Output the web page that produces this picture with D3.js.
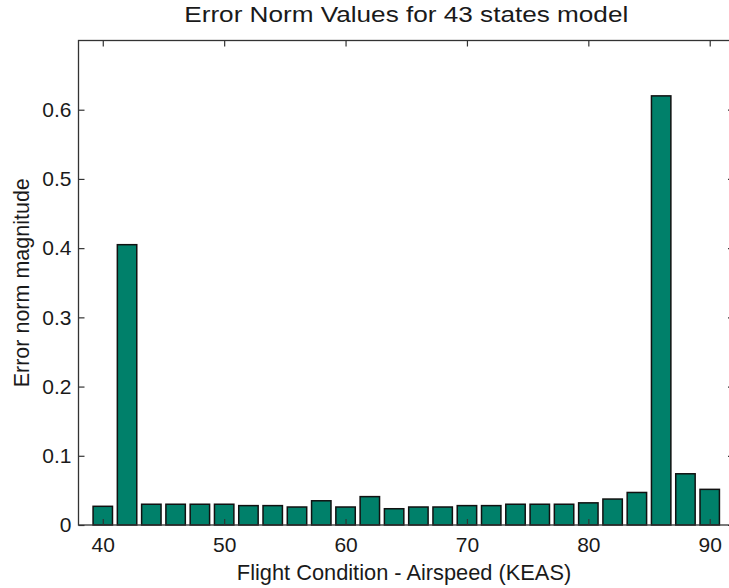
<!DOCTYPE html>
<html>
<head>
<meta charset="utf-8">
<script src="https://cdn.jsdelivr.net/npm/d3@7"></script>
<style>
  html, body { margin: 0; padding: 0; background: #fff; }
  svg { display: block; }
  text { font-family: "Liberation Sans", Arial, sans-serif; fill: #1a1a1a; }
</style>
</head>
<body>
<svg id="chart" width="729" height="588"></svg>
<script>
const airspeeds = [40, 42, 44, 46, 48, 50, 52, 54, 56, 58, 60, 62, 64, 66, 68, 70, 72, 74, 76, 78, 80, 82, 84, 86, 88, 90];
const errorNorms = [0.027, 0.405, 0.030, 0.030, 0.030, 0.030, 0.028, 0.028, 0.026, 0.035, 0.026, 0.041, 0.0235, 0.026, 0.026, 0.028, 0.028, 0.030, 0.030, 0.030, 0.032, 0.0375, 0.047, 0.620, 0.074, 0.0515];
const xTicks = [40, 50, 60, 70, 80, 90];
const yTicks = [0, 0.1, 0.2, 0.3, 0.4, 0.5, 0.6];
const xDomain = [38, 92];
const yDomain = [0, 0.7];
const titleText = "Error Norm Values for 43 states model";
const xLabel = "Flight Condition - Airspeed (KEAS)";
const yLabel = "Error norm magnitude";

const svg = d3.select("#chart");
const L = 78.5, R = 734, T = 40.5, B = 525;
const x = d3.scaleLinear().domain(xDomain).range([L, R]);
const y = d3.scaleLinear().domain(yDomain).range([B, T]);
const barW = x(xDomain[0] + 1.6) - x(xDomain[0]);

// bars
svg.append("g").selectAll("rect").data(airspeeds).join("rect")
  .attr("x", (d) => x(d) - barW / 2)
  .attr("y", (d, i) => y(errorNorms[i]))
  .attr("width", barW)
  .attr("height", (d, i) => y(0) - y(errorNorms[i]))
  .attr("fill", "#00806a")
  .attr("stroke", "#111")
  .attr("stroke-width", 1.5);

const tickLen = 6;
function styleAxis(g) {
  g.select(".domain").remove();
  g.selectAll(".tick line").attr("stroke", "#333").attr("stroke-width", 1.2);
  g.selectAll(".tick text").attr("font-size", 21).attr("fill", "#1a1a1a");
}

// bottom axis (ticks inward)
svg.append("g").attr("transform", `translate(0,${B})`)
  .call(d3.axisBottom(x).tickValues(xTicks).tickSize(-tickLen).tickPadding(12).tickFormat(d3.format("d")))
  .call(styleAxis)
  .call(g => g.selectAll(".tick text").attr("dy", "0.71em"));
// top axis
svg.append("g").attr("transform", `translate(0,${T})`)
  .call(d3.axisTop(x).tickValues(xTicks).tickSize(-tickLen).tickFormat(""))
  .call(styleAxis);
// left axis
svg.append("g").attr("transform", `translate(${L},0)`)
  .call(d3.axisLeft(y).tickValues(yTicks).tickSize(-tickLen).tickPadding(7).tickFormat(d => d === 0 ? "0" : d3.format(".1f")(d)))
  .call(styleAxis);
// right axis
svg.append("g").attr("transform", `translate(${R},0)`)
  .call(d3.axisRight(y).tickValues(yTicks).tickSize(-tickLen).tickFormat(""))
  .call(styleAxis);

// box
svg.append("rect")
  .attr("x", L).attr("y", T).attr("width", R - L).attr("height", B - T)
  .attr("fill", "none").attr("stroke", "#333").attr("stroke-width", 1.3);

// title
svg.append("text")
  .attr("x", (L + R) / 2).attr("y", 22)
  .attr("text-anchor", "middle")
  .attr("font-size", 22)
  .attr("textLength", 444).attr("lengthAdjust", "spacingAndGlyphs")
  .text(titleText);

// x label
svg.append("text")
  .attr("x", 404).attr("y", 580)
  .attr("text-anchor", "middle")
  .attr("font-size", 21.8)
  .text(xLabel);

// y label
svg.append("text")
  .attr("transform", `translate(29,${(T + B) / 2}) rotate(-90)`)
  .attr("text-anchor", "middle")
  .attr("font-size", 21.5)
  .text(yLabel);
</script>
</body>
</html>
